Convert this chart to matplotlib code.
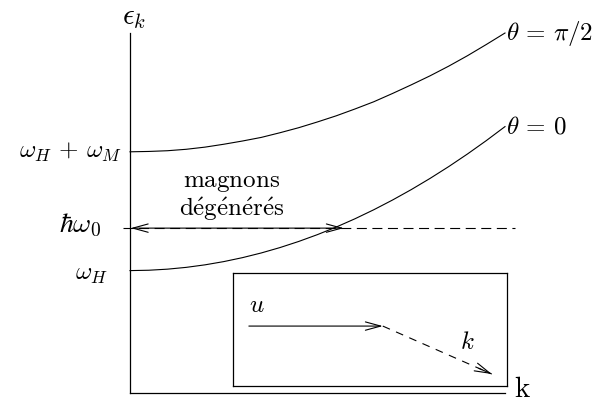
import matplotlib
matplotlib.use("Agg")
import matplotlib.pyplot as plt

plt.rcParams['mathtext.fontset'] = 'cm'

# wave vector samples and dispersion curves
k = [0.0, 0.05, 0.1, 0.15, 0.2, 0.25, 0.3, 0.35, 0.4, 0.45, 0.5,
     0.55, 0.6, 0.65, 0.7, 0.75, 0.8, 0.85, 0.9, 0.95, 1.0]
e_perp = [6.70, 6.71, 6.73, 6.77, 6.83, 6.91, 7.00, 7.10, 7.23, 7.37, 7.53,
          7.70, 7.89, 8.09, 8.32, 8.56, 8.81, 9.08, 9.37, 9.68, 10.0]   # theta = pi/2
e_par = [3.40, 3.41, 3.44, 3.49, 3.56, 3.65, 3.76, 3.89, 4.04, 4.21, 4.40,
         4.61, 4.84, 5.09, 5.36, 5.65, 5.96, 6.29, 6.64, 7.01, 7.40]    # theta = 0
omega_H = 3.40
omega_HM = 6.70
hw0 = 4.58
k_cross = 0.57

fig = plt.figure(figsize=(5.98, 4.03), dpi=100)
ax = fig.add_axes([0, 0, 1, 1])
ax.set_xlim(-0.3467, 1.248)
ax.set_ylim(-0.278, 10.917)
ax.axis('off')

# axes
ax.plot([0, 0], [0, 10], color='black', lw=0.9)
ax.plot([0, 1], [0, 0], color='black', lw=0.9)

# dispersion curves
ax.plot(k, e_perp, color='black', lw=0.8)
ax.plot(k, e_par, color='black', lw=0.8)

head = '->,head_length=1.1,head_width=0.3'

# degenerate level
ax.plot([-0.02, 1.027], [hw0, hw0], color='black', lw=0.8, linestyle=(0, (9, 5)))
ax.annotate('', xy=(0.002, hw0), xytext=(k_cross, hw0),
            arrowprops=dict(arrowstyle='<->,head_length=1.1,head_width=0.3',
                            color='black', lw=0.8, shrinkA=0, shrinkB=0))

fs = 18
ax.text(0.012, 10.45, r'$\epsilon_k$', fontsize=fs + 3, ha='center', va='center')
ax.text(-0.021, omega_HM, r'$\omega_H\,+\,\omega_M$', fontsize=fs, ha='right', va='center')
ax.text(-0.077, hw0 + 0.1, r'$\hbar\omega_0$', fontsize=fs + 2, ha='right', va='center')
ax.text(-0.059, omega_H - 0.1, r'$\omega_H$', fontsize=fs, ha='right', va='center')
ax.text(1.003, 10.0, r'$\theta\,=\,\pi/2$', fontsize=fs, ha='left', va='center')
ax.text(1.003, 7.40, r'$\theta\,=\,0$', fontsize=fs, ha='left', va='center')
ax.text(0.272, 5.85, r'$\mathrm{magnons}$', fontsize=fs, ha='center', va='center')
ax.text(0.272, 5.12, r'$\mathrm{d\acute{e}g\acute{e}n\acute{e}r\acute{e}s}$', fontsize=fs,
        ha='center', va='center')
ax.text(1.047, 0.1, r'$\mathrm{k}$', fontsize=fs + 3, ha='center', va='center')

# inset with the wave vectors
ins = fig.add_axes([0.3896, 0.0422, 0.458, 0.280])
ins.set_xlim(0, 1)
ins.set_ylim(0, 1)
ins.set_xticks([])
ins.set_yticks([])
for s in ins.spines.values():
    s.set_linewidth(0.9)
u0 = (0.058, 0.531)
u1 = (0.547, 0.531)
k1 = (0.945, 0.106)
ins.annotate('', xy=u1, xytext=u0,
             arrowprops=dict(arrowstyle=head, color='black', lw=0.8,
                             shrinkA=0, shrinkB=0))
ins.plot([u1[0], k1[0]], [u1[1], k1[1]], color='black', lw=0.8,
         linestyle=(0, (7, 6)))
kh = (u1[0] + 0.88 * (k1[0] - u1[0]), u1[1] + 0.88 * (k1[1] - u1[1]))
ins.annotate('', xy=k1, xytext=kh,
             arrowprops=dict(arrowstyle=head, color='black', lw=0.8,
                             shrinkA=0, shrinkB=0))
ins.text(0.088, 0.717, r'$u$', fontsize=fs, ha='center', va='center')
ins.text(0.854, 0.389, r'$k$', fontsize=fs, ha='center', va='center')

fig.savefig('out.png', dpi=100)
